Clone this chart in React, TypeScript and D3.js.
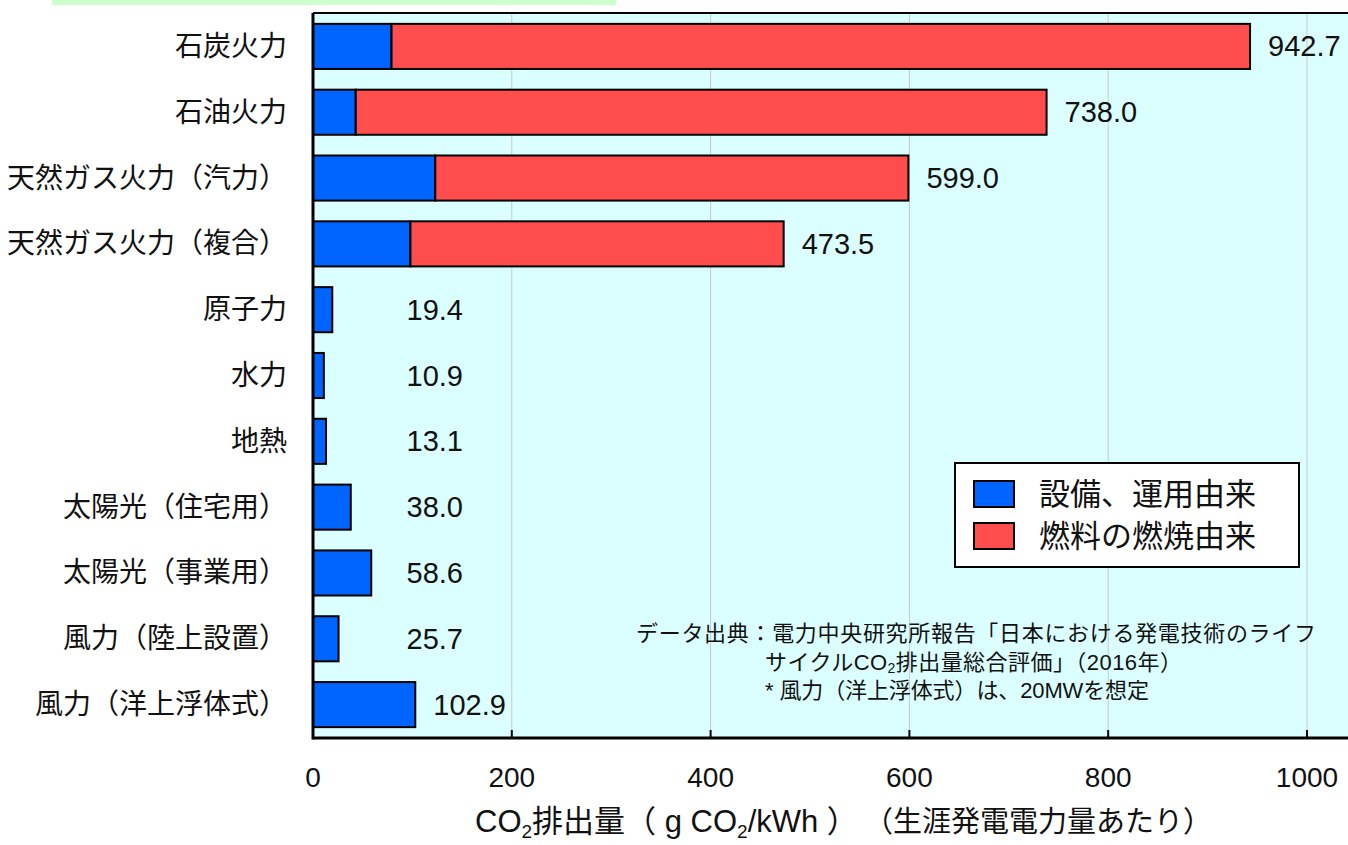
import React from "react";
import * as d3 from "d3";

// Life-cycle CO2 emissions by power source (g-CO2/kWh)
const categories = [
  "石炭火力",
  "石油火力",
  "天然ガス火力（汽力）",
  "天然ガス火力（複合）",
  "原子力",
  "水力",
  "地熱",
  "太陽光（住宅用）",
  "太陽光（事業用）",
  "風力（陸上設置）",
  "風力（洋上浮体式）",
];

// From construction / operation of facilities
const equipment = [79.0, 43.0, 123.0, 98.0, 19.4, 10.9, 13.1, 38.0, 58.6, 25.7, 102.9];
// From fuel combustion
const fuel = [863.7, 695.0, 476.0, 375.5, 0, 0, 0, 0, 0, 0, 0];

const xTicks = [0, 200, 400, 600, 800, 1000];

const legendItems = ["設備、運用由来", "燃料の燃焼由来"];

const noteLines = [
  "データ出典：電力中央研究所報告「日本における発電技術のライフ",
  "サイクルCO₂排出量総合評価」（2016年）",
  "* 風力（洋上浮体式）は、20MWを想定",
];

const W = 1348;
const H = 845;
const plotLeft = 313;
const plotTop = 13;
const plotBottom = 738;
const plotRight = 1348;

const BLUE = "#0064ff";
const RED = "#ff4d4d";
const FONT = "'Liberation Sans', 'Noto Sans CJK JP', sans-serif";

export default function App() {
  const x = d3.scaleLinear().domain([0, 1000]).range([plotLeft, 1307]);
  const y = d3
    .scaleBand<string>()
    .domain(categories)
    .range([plotTop, plotBottom])
    .paddingInner(0.315)
    .paddingOuter(0.165);

  const rows = categories.map((c, i) => {
    const total = equipment[i] + fuel[i];
    return { c, eq: equipment[i], fu: fuel[i], total };
  });

  const bh = y.bandwidth();

  return (
    <svg
      width={W}
      height={H}
      style={{ position: "absolute", left: 0, top: 0, display: "block", background: "#fff" }}
      fontFamily={FONT}
    >
      {/* header band */}
      <rect x={52} y={0} width={564} height={5} fill="#ccffcc" />

      {/* plot background */}
      <rect x={plotLeft} y={plotTop} width={plotRight - plotLeft} height={plotBottom - plotTop} fill="#dbffff" />

      {/* grid lines */}
      {xTicks.filter((t) => t > 0).map((t) => (
        <line key={"g" + t} x1={x(t)} x2={x(t)} y1={plotTop} y2={plotBottom} stroke="#c8c8c8" strokeWidth={1} />
      ))}

      {/* bars */}
      {rows.map((r) => (
        <g key={r.c}>
          <rect
            x={x(0)}
            y={y(r.c)}
            width={x(r.eq) - x(0)}
            height={bh}
            fill={BLUE}
            stroke="#000"
            strokeWidth={2}
          />
          {r.fu > 0 && (
            <rect
              x={x(r.eq)}
              y={y(r.c)}
              width={x(r.eq + r.fu) - x(r.eq)}
              height={bh}
              fill={RED}
              stroke="#000"
              strokeWidth={2}
            />
          )}
          <text
            x={Math.max(x(r.total), x(76)) + 18}
            y={(y(r.c) as number) + bh / 2}
            dominantBaseline="central"
            fontSize={29}
            fill="#111"
          >
            {r.total.toFixed(1)}
          </text>
          <text
            x={287}
            y={(y(r.c) as number) + bh / 2}
            dominantBaseline="central"
            textAnchor="end"
            fontSize={28}
            fill="#111"
          >
            {r.c}
          </text>
        </g>
      ))}

      {/* frame: top border, left axis, bottom axis */}
      <line x1={plotLeft} x2={plotRight} y1={plotTop} y2={plotTop} stroke="#000" strokeWidth={2} />
      <line x1={plotLeft} x2={plotLeft} y1={plotTop} y2={plotBottom + 1.5} stroke="#000" strokeWidth={3} />
      <line x1={plotLeft} x2={plotRight} y1={plotBottom} y2={plotBottom} stroke="#000" strokeWidth={3} />

      {/* ticks */}
      {xTicks.map((t) => (
        <g key={"t" + t}>
          {t > 0 && (
            <line x1={x(t)} x2={x(t)} y1={plotBottom} y2={plotBottom - 8} stroke="#000" strokeWidth={2} />
          )}
          <text x={x(t)} y={787} textAnchor="middle" fontSize={28} fill="#111">
            {t}
          </text>
        </g>
      ))}

      {/* axis title */}
      <text x={475} y={832} fontSize={31} fill="#111">
        <tspan>CO</tspan>
        <tspan fontSize={19} dy={6}>2</tspan>
        <tspan dy={-6}>排出量（ g CO</tspan>
        <tspan fontSize={19} dy={6}>2</tspan>
        <tspan dy={-6}>/kWh ）</tspan>
      </text>
      <text x={1212} y={832} textAnchor="end" fontSize={29} fill="#111">
        （生涯発電電力量あたり）
      </text>

      {/* legend */}
      <rect x={955} y={463} width={344} height={104} fill="#fff" stroke="#000" strokeWidth={2} />
      {legendItems.map((l, i) => (
        <g key={l}>
          <rect x={974} y={481 + i * 42} width={40} height={26} fill={i === 0 ? BLUE : RED} stroke="#000" strokeWidth={2} />
          <text x={1039} y={494 + i * 42} dominantBaseline="central" fontSize={31} fill="#111">
            {l}
          </text>
        </g>
      ))}

      {/* source notes */}
      <text x={636} y={633} dominantBaseline="central" fontSize={22} fill="#111" textLength={680} lengthAdjust="spacing">
        {noteLines[0]}
      </text>
      <text x={765} y={662} dominantBaseline="central" fontSize={22} fill="#111" textLength={417} lengthAdjust="spacing">
        <tspan>サイクルCO</tspan>
        <tspan fontSize={14} dy={6}>2</tspan>
        <tspan dy={-6}>排出量総合評価」（2016年）</tspan>
      </text>
      <text x={765} y={690} dominantBaseline="central" fontSize={22} fill="#111" textLength={384} lengthAdjust="spacing">
        {noteLines[2]}
      </text>
    </svg>
  );
}
